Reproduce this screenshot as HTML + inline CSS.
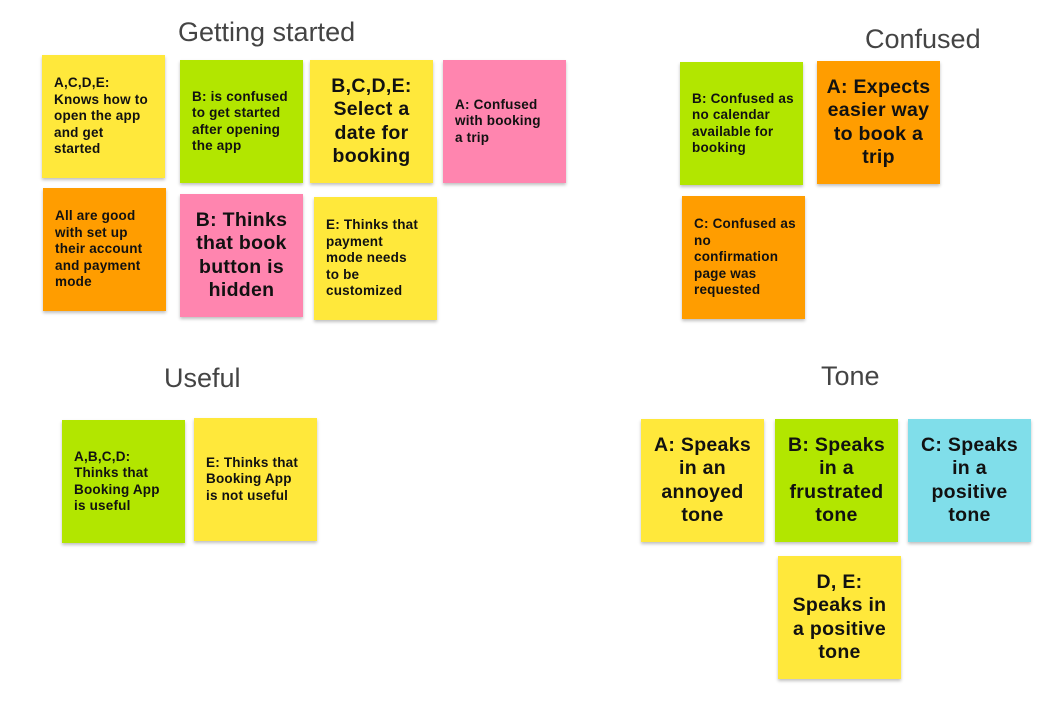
<!DOCTYPE html>
<html><head><meta charset="utf-8"><style>
body{margin:0;width:1061px;height:702px;background:#fff;position:relative;overflow:hidden;font-family:"Liberation Sans",sans-serif}
.t{position:absolute;font-size:27px;color:#444;white-space:nowrap}
.s{position:absolute;width:123px;height:123px;box-shadow:0 2px 3px rgba(0,0,0,.25);display:flex;flex-direction:column;justify-content:center;font-weight:bold;color:#111;box-sizing:border-box;white-space:nowrap}
.sm{font-size:13.5px;line-height:16.5px;padding:0 4px 0 12px;text-align:left;letter-spacing:.2px}
.bg{font-size:19.5px;line-height:23.5px;text-align:center;padding:0;letter-spacing:.3px}
.y{background:#FFE83B}.g{background:#B2E600}.p{background:#FF85AF}.o{background:#FF9D00}.c{background:#80DEEA}
</style></head><body>
<div class="t" style="left:178px;top:17px">Getting started</div>
<div class="t" style="left:865px;top:24px">Confused</div>
<div class="t" style="left:164px;top:363px">Useful</div>
<div class="t" style="left:821px;top:361px">Tone</div>

<div class="s y sm" style="left:42px;top:55px">A,C,D,E:<br>Knows how to<br>open the app<br>and get<br>started</div>
<div class="s g sm" style="left:180px;top:60px">B: is confused<br>to get started<br>after opening<br>the app</div>
<div class="s y bg" style="left:310px;top:60px">B,C,D,E:<br>Select a<br>date for<br>booking</div>
<div class="s p sm" style="left:443px;top:60px">A: Confused<br>with booking<br>a trip</div>
<div class="s o sm" style="left:43px;top:188px">All are good<br>with set up<br>their account<br>and payment<br>mode</div>
<div class="s p bg" style="left:180px;top:194px">B: Thinks<br>that book<br>button is<br>hidden</div>
<div class="s y sm" style="left:314px;top:197px">E: Thinks that<br>payment<br>mode needs<br>to be<br>customized</div>

<div class="s g sm" style="left:680px;top:62px">B: Confused as<br>no calendar<br>available for<br>booking</div>
<div class="s o bg" style="left:817px;top:61px">A: Expects<br>easier way<br>to book a<br>trip</div>
<div class="s o sm" style="left:682px;top:196px">C: Confused as<br>no<br>confirmation<br>page was<br>requested</div>

<div class="s g sm" style="left:62px;top:420px">A,B,C,D:<br>Thinks that<br>Booking App<br>is useful</div>
<div class="s y sm" style="left:194px;top:418px">E: Thinks that<br>Booking App<br>is not useful</div>

<div class="s y bg" style="left:641px;top:419px">A: Speaks<br>in an<br>annoyed<br>tone</div>
<div class="s g bg" style="left:775px;top:419px">B: Speaks<br>in a<br>frustrated<br>tone</div>
<div class="s c bg" style="left:908px;top:419px">C: Speaks<br>in a<br>positive<br>tone</div>
<div class="s y bg" style="left:778px;top:556px">D, E:<br>Speaks in<br>a positive<br>tone</div>
</body></html>
